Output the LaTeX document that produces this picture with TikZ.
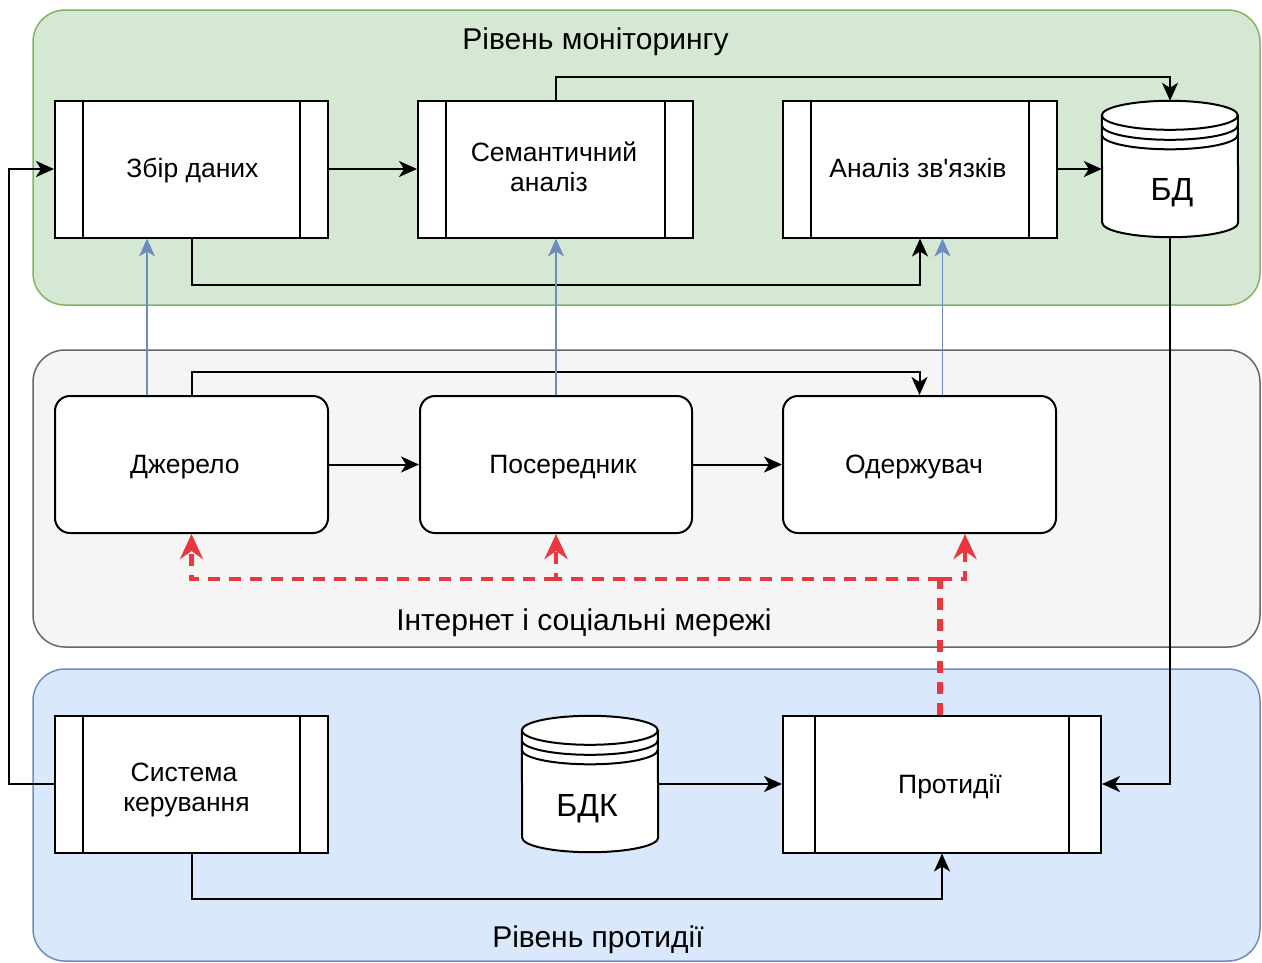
\documentclass[tikz,border=0pt]{standalone}
\usepackage{fontspec}
\setmainfont{Liberation Sans}
\usetikzlibrary{arrows.meta}

\definecolor{monfill}{HTML}{D5E8D4}
\definecolor{monline}{HTML}{82B366}
\definecolor{netfill}{HTML}{F5F5F5}
\definecolor{netline}{HTML}{666666}
\definecolor{ctrfill}{HTML}{DAE8FC}
\definecolor{ctrline}{HTML}{6C8EBF}
\definecolor{feedblue}{HTML}{6C8EBF}
\definecolor{attackred}{HTML}{E8383D}

\tikzset{
  layerbox/.style={rounded corners=32pt, line width=1.5pt, inner sep=0pt, minimum width=1227pt},
  procbox/.style={draw, fill=white, line width=2pt, minimum height=137pt, inner sep=0pt,
    path picture={
      \draw[line width=2pt] ([xshift=#1]path picture bounding box.north west) -- ([xshift=#1]path picture bounding box.south west);
      \draw[line width=2pt] ([xshift=-#1]path picture bounding box.north east) -- ([xshift=-#1]path picture bounding box.south east);
    }},
  procbox/.default=28pt,
  roundbox/.style={draw, fill=white, line width=2pt, rounded corners=15pt, minimum height=137pt, inner sep=0pt},
  storenode/.style={minimum width=136pt, minimum height=136pt, inner sep=0pt},
  boxtext/.style={anchor=base, inner sep=0pt, font=\fontsize{26.5}{30}\selectfont},
  storetext/.style={anchor=base, inner sep=0pt, font=\fontsize{32}{36}\selectfont},
  layertext/.style={anchor=base, inner sep=0pt, font=\fontsize{30}{36}\selectfont},
  arr/.style={line width=2pt, -{Stealth[length=18pt,width=16pt,inset=5pt]}},
  bluearr/.style={draw=feedblue, line width=1.5pt, -{Stealth[length=18pt,width=16pt,inset=5pt]}},
  redline/.style={draw=attackred, line width=4.5pt, dash pattern=on 12pt off 9pt},
  redtip/.style={-{Stealth[length=25pt,width=23pt,inset=8pt]}, attackred},
}

% cylinder with three rims on top, drawn over an empty node of the same size
\newcommand\drawdatastore[1]{%
  \draw[line width=2pt, fill=white]
    ([yshift=-14.5pt]#1.north west) arc[start angle=180,end angle=0,x radius=68pt,y radius=14.5pt]
    -- ([yshift=14.5pt]#1.south east) arc[start angle=0,end angle=-180,x radius=68pt,y radius=14.5pt]
    -- cycle;
  \foreach \d in {14.5pt,24.5pt,34pt}{
    \draw[line width=2pt] ([yshift=-\d]#1.north west) arc[start angle=180,end angle=360,x radius=68pt,y radius=14.5pt];
  }%
}

\begin{document}
\begin{tikzpicture}[x=1pt,y=-1pt]
\useasboundingbox[fill=white] (0,0) rectangle (1262,962);

% three layers
\node[layerbox, fill=monfill, draw=monline, minimum height=295pt] (mon) at (646.5,157.5) {};
\node[layerbox, fill=netfill, draw=netline, minimum height=297pt] (net) at (646.5,498.5) {};
\node[layerbox, fill=ctrfill, draw=ctrline, minimum height=292pt] (ctr) at (646.5,815) {};

\node[layertext] (montitle) at (595.5,49.5) {Рівень моніторингу};
\node[layertext] (nettitle) at (584,630) {Інтернет і соціальні мережі};
\node[layertext] (ctrtitle) at (598,947) {Рівень протидії};

% monitoring level
\node[procbox, minimum width=273pt] (zbir) at (191.5,169) {};
\node[procbox, minimum width=275pt] (sem) at (555.5,169) {};
\node[procbox, minimum width=274pt] (anal) at (920,169) {};
\node[storenode] (bd) at (1170,169) {};
\drawdatastore{bd}

\node[boxtext] (zbirtxt) at (192.5,177) {Збір даних};
\node[boxtext] (semtxta) at (554,161) {Семантичний};
\node[boxtext] (semtxtb) at (549,191) {аналіз};
\node[boxtext] (analtxt) at (918,177) {Аналіз зв\textquotesingle язків};
\node[storetext] (bdtxt) at (1172,200) {БД};

% internet level
\node[roundbox, minimum width=273pt] (dzh) at (191.5,464.5) {};
\node[roundbox, minimum width=272pt] (pos) at (556,464.5) {};
\node[roundbox, minimum width=273pt] (odz) at (919.5,464.5) {};

\node[boxtext] (dzhtxt) at (185,473) {Джерело};
\node[boxtext] (postxt) at (563,473) {Посередник};
\node[boxtext] (odztxt) at (914,473) {Одержувач};

% counteraction level
\node[procbox, minimum width=273pt] (sys) at (191.5,784) {};
\node[storenode] (bdk) at (590,784) {};
\drawdatastore{bdk}
\node[procbox=32pt, minimum width=318pt] (prot) at (942,784) {};

\node[boxtext] (systxta) at (184,781) {Система};
\node[boxtext] (systxtb) at (186.5,811) {керування};
\node[storetext] (bdktxt) at (587,816) {БДК};
\node[boxtext] (prottxt) at (950,793) {Протидії};

% black connectors
\draw[arr] (sys.west) -- ++(-45,0) |- (zbir.west);
\draw[arr] (zbir.east) -- (sem.west);
\draw[arr] (sem.north) -- ++(0,-23) -| (bd.north);
\draw[arr] (anal.east) -- (bd.west);
\draw[arr] (zbir.south) -- ++(0,46) -| (anal.south);
\draw[arr] (bd.south) |- (prot.east);
\draw[arr] (dzh.north) -- ++(0,-23) -| (odz.north);
\draw[arr] (dzh.east) -- (pos.west);
\draw[arr] (pos.east) -- (odz.west);
\draw[arr] (bdk.east) -- (prot.west);
\draw[arr] (sys.south) -- ++(0,45) -| (prot.south);

% blue feeds into the monitoring level
\draw[bluearr] ([xshift=-44.5pt]dzh.north) -- ([xshift=-44.5pt]zbir.south);
\draw[bluearr] (pos.north) -- (pos.north |- sem.south);
\draw[bluearr] ([xshift=23pt]odz.north) -- ([xshift=23pt]odz.north |- anal.south);

% red dashed counteraction paths
\coordinate (rj) at (940,579);
\coordinate (rm) at (556,579);
\draw[redline, line width=6pt] ([xshift=-2pt]prot.north) -- (rj);
\draw[redline, redtip] (rj) -| ([xshift=45.5pt]odz.south);
\draw[redline, redtip] (rj) -- (rm) -- (pos.south);
\draw[redline, redtip] (rm) -| (dzh.south);
\end{tikzpicture}
\end{document}
